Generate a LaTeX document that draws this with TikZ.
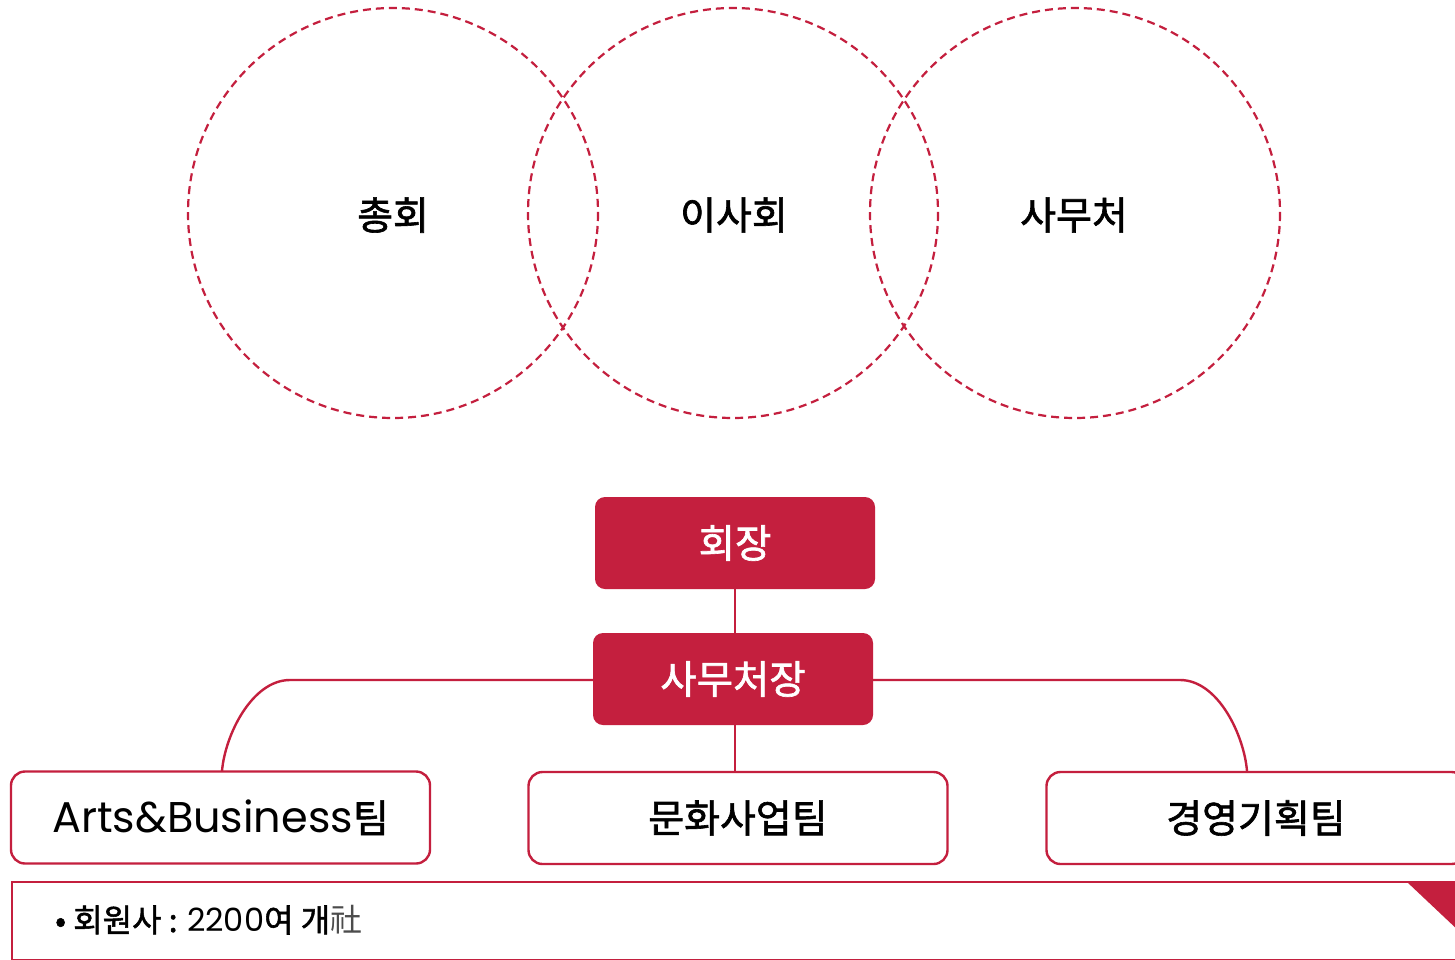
\documentclass[tikz,border=0pt]{standalone}
\usepackage{fontspec}
\newfontfamily\kr{Noto Sans CJK KR}[FakeBold=1.6]
\newfontfamily\krlight{Noto Sans CJK KR}
\newfontfamily\lat{Poppins}
\definecolor{crim}{HTML}{C41F3E}
\tikzset{
  ring/.style={draw=crim, line width=2.2pt, dash pattern=on 8pt off 5pt},
  redbox/.style={fill=crim, rounded corners=10pt, minimum width=280pt, minimum height=92pt, inner sep=0pt, text=white, font=\kr\fontsize{39.5}{42}\selectfont},
  teambox/.style={draw=crim, line width=2.4pt, fill=white, rounded corners=14pt, minimum width=419pt, minimum height=92pt, inner sep=0pt, font=\kr\fontsize{39}{42}\selectfont},
  conn/.style={draw=crim, line width=2.4pt},
  lbl/.style={font=\kr\fontsize{39}{42}\selectfont, inner sep=0pt}
}
\begin{document}
\begin{tikzpicture}[x=1pt,y=-1pt]
\useasboundingbox (0,0) rectangle (1455,959);
\clip (0,0) rectangle (1455,959);
\fill[white] (0,0) rectangle (1455,959);
% circles
\draw[ring] (393,213) circle[radius=205];
\draw[ring] (733,213) circle[radius=205];
\draw[ring] (1075,213) circle[radius=205];
\node[lbl] (c1) at (393,215) {총회};
\node[lbl] (c2) at (734,215) {이사회};
\node[lbl] (c3) at (1074,215) {사무처};
% org chart
\node[redbox] (pres) at (735,543) {회장};
\node[redbox] (sec) at (733,679) {사무처장};
\node[teambox] (ab) at (220.5,817.5) {{\lat\fontsize{43}{44}\selectfont Arts\&Business}팀};
\node[teambox] (cul) at (738,818) {문화사업팀};
\node[teambox] (mgt) at (1256,818) {경영기획팀};
\coordinate (l1) at (290,680);
\coordinate (l2) at (222,771);
\coordinate (r1) at (1180,680);
\coordinate (r2) at (1247,771);
\draw[conn] (pres.south) -- (pres.south |- sec.north);
\draw[conn] (pres.south |- sec.south) -- (pres.south |- cul.north);
\draw[conn] (sec.west |- l1) -- (l1) .. controls (252,680) and (225,735) .. (l2);
\draw[conn] (sec.east |- r1) -- (r1) .. controls (1218,680) and (1244,735) .. (r2);
% bottom info box
\node[draw=crim, line width=2.4pt, fill=white, minimum width=1460pt, minimum height=78pt, anchor=north west, inner sep=0pt] (info) at (11,881) {};
\fill[crim] (1407,882) -- (1460,882) -- (1460,932) -- cycle;
\node[anchor=west, inner sep=0pt, font=\kr\fontsize{32}{36}\selectfont] (memb) at (55,920) {• 회원사 : {\lat\fontsize{32}{36}\selectfont 2200}여 개{\krlight\color{black!70}社}};
\end{tikzpicture}
\end{document}
